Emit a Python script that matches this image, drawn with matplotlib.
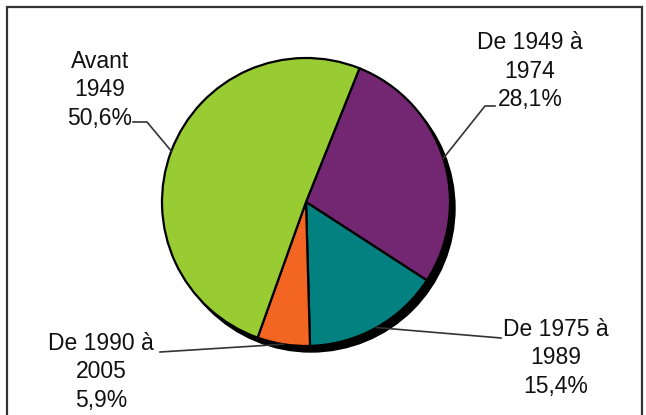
import numpy as np
import matplotlib
matplotlib.use("Agg")
import matplotlib.pyplot as plt
from matplotlib.patches import Circle, Rectangle

plt.rcParams['font.family'] = ['Liberation Sans', 'DejaVu Sans']

# Parts of the stock by construction period (clockwise from the top)
periods = ["De 1949 à\n1974", "De 1975 à\n1989", "De 1990 à\n2005", "Avant\n1949"]
shares = [28.1, 15.4, 5.9, 50.6]
share_labels = ["28,1%", "15,4%", "5,9%", "50,6%"]
colors = ["#732672", "#038080", "#F26522", "#99CC33"]

W, H = 646, 415
fig = plt.figure(figsize=(W / 100, H / 100), dpi=100)
ax = fig.add_axes([0, 0, 1, 1])

# outer chart frame
ax.add_patch(Rectangle((7, -20), 635, H - 7 + 20, fill=False, ec="#333333", lw=1.6))

cx, cy, r = 306, 213, 144
start = 68.2

# drop shadow
ax.add_patch(Circle((cx + 5, cy - 6), r, color="black", zorder=1))

wedges, _ = ax.pie(shares, colors=colors, startangle=start, counterclock=False,
                   center=(cx, cy), radius=r, frame=True,
                   wedgeprops=dict(edgecolor="black", linewidth=1.6))
for w in wedges:
    w.set_zorder(2)
ax.set_xlim(0, W)
ax.set_ylim(0, H)
ax.set_aspect('equal')
ax.axis('off')

# label blocks: text centre, leader start, elbow
label_pos = [(530, 344), (556, 57), (101, 43), (100, 325)]
leader_start = [(495, 309), (501, 77), (160, 63), (133, 293)]
leader_elbow = [(485, 309), (501, 77), (160, 63), (147, 293)]

cum = np.cumsum([0] + shares[:-1])
for i, (lab, pct) in enumerate(zip(periods, share_labels)):
    mid = start - 360 * (cum[i] + shares[i] / 2) / 100
    ex = cx + r * np.cos(np.radians(mid))
    ey = cy + r * np.sin(np.radians(mid))
    xs = [leader_start[i][0], leader_elbow[i][0], ex]
    ys = [leader_start[i][1], leader_elbow[i][1], ey]
    ax.plot(xs, ys, color="#333333", lw=1.2, zorder=3)
    ax.text(label_pos[i][0], label_pos[i][1], lab + "\n" + pct, ha="center", va="center",
            fontsize=16.5, linespacing=1.33, color="#111111", zorder=4)

fig.savefig("out.png", dpi=100)
